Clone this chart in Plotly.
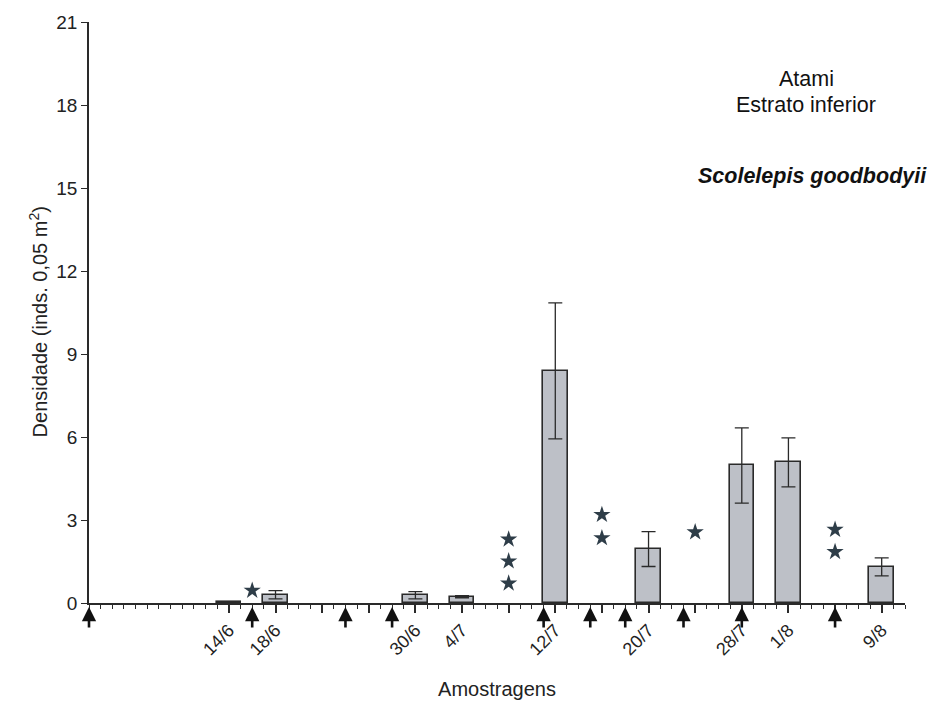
import datetime as dt
import plotly.graph_objects as go

YEAR = 2000
ORIGIN = "2/6"

# sampling dates with density values (mean and error-bar limits)
sample_dates = ["14/6", "18/6", "30/6", "4/7", "12/7", "20/7", "28/7", "1/8", "9/8"]
density_mean = [0.03, 0.30, 0.29, 0.23, 8.40, 1.96, 4.99, 5.10, 1.30]
density_upper = [0.03, 0.45, 0.41, 0.27, 10.85, 2.58, 6.33, 5.97, 1.63]
density_lower = [0.03, 0.15, 0.15, 0.19, 5.93, 1.32, 3.61, 4.20, 0.98]

# arrow-marked dates (below axis)
arrow_dates = ["2/6", "16/6", "24/6", "28/6", "11/7", "15/7", "18/7", "23/7", "28/7", "5/8"]

# star markers: date and height
star_dates = ["16/6", "8/7", "8/7", "8/7", "16/7", "16/7", "24/7", "5/8", "5/8"]
star_heights = [0.45, 2.30, 1.51, 0.71, 3.19, 2.35, 2.56, 2.65, 1.85]

y_ticks = [0, 3, 6, 9, 12, 15, 18, 21]


def day(s):
    d, m = s.split("/")
    o_d, o_m = ORIGIN.split("/")
    return (dt.date(YEAR, int(m), int(d)) - dt.date(YEAR, int(o_m), int(o_d))).days


sx = [day(s) for s in sample_dates]
ax_dark = "#2a2a2a"
font_fam = "Liberation Sans, Arial, sans-serif"

L, R, T, B = 89, 29, 19, 102
PW, PH = 934 - L - R, 709 - T - B


def px_to_paper(px, py):
    return (px - L) / PW, (709 - B - py) / PH


fig = go.Figure()
fig.add_trace(go.Bar(
    x=sx, y=density_mean, width=2.1,
    marker=dict(color="#bdc0c7", line=dict(color=ax_dark, width=1.6)),
    error_y=dict(type="data", symmetric=False,
                 array=[u - m for u, m in zip(density_upper, density_mean)],
                 arrayminus=[m - l for m, l in zip(density_mean, density_lower)],
                 color=ax_dark, thickness=1.3, width=7),
    showlegend=False, hoverinfo="skip",
))
fig.add_trace(go.Scatter(
    x=[day(s) for s in star_dates], y=star_heights, mode="markers",
    marker=dict(symbol="star", size=13, color="#2e3d48"),
    showlegend=False, hoverinfo="skip", cliponaxis=False,
))

# arrows below the axis
for a in arrow_dates:
    fig.add_annotation(x=day(a), xref="x", y=-4.0 / PH, yref="paper",
                       showarrow=True, ax=0, ay=22, arrowhead=2, arrowsize=1.1,
                       arrowwidth=2.6, arrowcolor="#111111", text="")

# major ticks every 4 days; labels only at sample dates
label_map = {day(s): s for s in sample_dates}
major = list(range(12, 71, 4))
tick_text = [label_map.get(v, "") for v in major]

fig.update_layout(
    width=934, height=709,
    margin=dict(l=L, r=R, t=T, b=B),
    plot_bgcolor="white", paper_bgcolor="white",
    font=dict(family=font_fam, color="#222222"),
    bargap=0,
    xaxis=dict(range=[0, 70], showgrid=False, zeroline=False,
               showline=True, linecolor=ax_dark, linewidth=1.5,
               tickmode="array", tickvals=major, ticktext=tick_text,
               ticks="outside", ticklen=8, tickwidth=1.5, tickcolor=ax_dark,
               tickangle=-45, tickfont=dict(size=18),
               minor=dict(dtick=1, tick0=0, ticks="outside", ticklen=4,
                          tickwidth=1.3, tickcolor=ax_dark, showgrid=False),
               title=dict(text="Amostragens", font=dict(size=20), standoff=24)),
    yaxis=dict(range=[0, 21], showgrid=False, zeroline=False,
               showline=True, linecolor=ax_dark, linewidth=1.5,
               tickmode="array", tickvals=y_ticks,
               ticks="outside", ticklen=6, tickwidth=1.3, tickcolor=ax_dark,
               tickfont=dict(size=19)),
)

# y-axis title placed as rotated annotation
yx, yy = px_to_paper(38, 323)
fig.add_annotation(x=yx, y=yy, xref="paper", yref="paper",
                   text="Densidade (inds. 0,05 m<sup>2</sup>)", textangle=-90,
                   showarrow=False, font=dict(size=20, color="#222222"),
                   xanchor="center", yanchor="middle")

for txt, px, py in [("Atami", 806, 77),
                    ("Estrato inferior", 806, 103),
                    ("<b><i>Scolelepis goodbodyii</i></b>", 812, 175)]:
    xp, yp = px_to_paper(px, py)
    fig.add_annotation(x=xp, y=yp, xref="paper", yref="paper", text=txt,
                       showarrow=False, font=dict(size=21.5, color="#111111"),
                       xanchor="center", yanchor="middle")

fig.write_html("out.html")
